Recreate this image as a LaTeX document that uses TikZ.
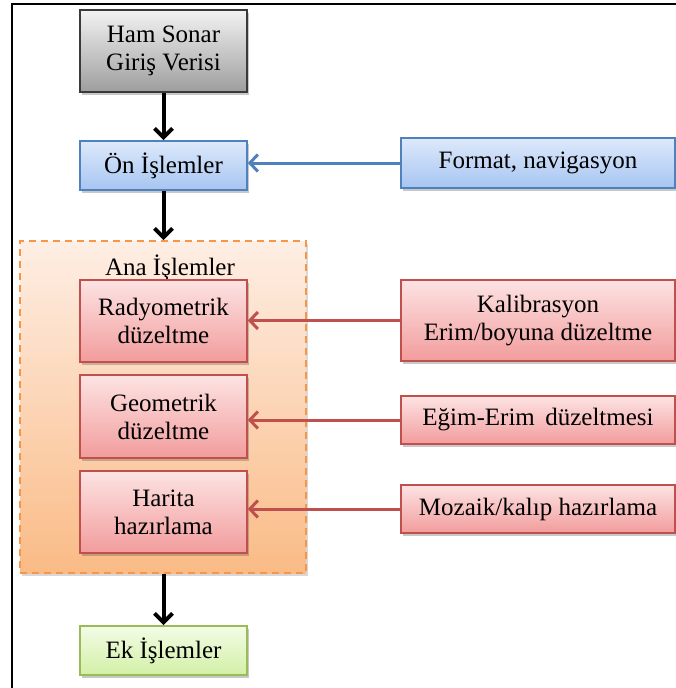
\documentclass[tikz,border=0pt]{standalone}
\usepackage{fontspec}
\setmainfont{Liberation Serif}
\newfontfamily\tnr{Liberation Serif}
\usetikzlibrary{arrows.meta,shadows}
\definecolor{grayline}{HTML}{3A3A3A}
\definecolor{graytop}{HTML}{F2F2F2}
\definecolor{graybot}{HTML}{9E9E9E}
\definecolor{blueline}{HTML}{4F81BD}
\definecolor{bluetop}{HTML}{DDE9FB}
\definecolor{bluebot}{HTML}{A7C5F1}
\definecolor{redline}{HTML}{C0504D}
\definecolor{redtop}{HTML}{FDE3E3}
\definecolor{redbot}{HTML}{F29C9C}
\definecolor{greenline}{HTML}{9BBB59}
\definecolor{greentop}{HTML}{F3FCE6}
\definecolor{greenbot}{HTML}{D2F0A6}
\definecolor{orline}{HTML}{F79646}
\definecolor{ortop}{HTML}{FEEEE4}
\definecolor{orbot}{HTML}{FABB86}
\tikzset{
  box/.style={rectangle, inner sep=0pt, align=center, line width=1.6pt,
    font=\tnr\fontsize{25}{28}\selectfont,
    drop shadow={shadow xshift=2pt, shadow yshift=-3pt, opacity=0.3, fill=black!70}},
  graybox/.style={box, draw=grayline, top color=graytop, bottom color=graybot},
  bluebox/.style={box, draw=blueline, top color=bluetop, bottom color=bluebot},
  redbox/.style={box, draw=redline, top color=redtop, bottom color=redbot},
  greenbox/.style={box, draw=greenline, top color=greentop, bottom color=greenbot},
  container/.style={rectangle, inner sep=0pt, draw=orline, line width=1.6pt,
    dash pattern=on 7pt off 5pt, top color=ortop, bottom color=orbot,
    drop shadow={shadow xshift=2pt, shadow yshift=-3pt, opacity=0.25, fill=black!60}},
  blackarrow/.style={draw=black, line width=4pt, -{Straight Barb[length=9pt,width=18pt]}},
  bluearrow/.style={draw=blueline, line width=3pt, -{Straight Barb[length=8pt,width=17pt]}},
  redarrow/.style={draw=redline, line width=3pt, -{Straight Barb[length=8pt,width=17pt]}},
  lbl/.style={inner sep=0pt, font=\tnr\fontsize{25}{28}\selectfont}
}
\begin{document}
\begin{tikzpicture}[x=1pt,y=-1pt]
\useasboundingbox (0,0) rectangle (676,688);
\fill[white] (0,0) rectangle (676,688);
\draw[line width=2.5pt] (12,688) -- (12,4) -- (676,4);

\node[container, minimum width=286pt, minimum height=332pt] (ana) at (163,407) {};
\node[lbl] (analbl) at (170,268) {Ana İşlemler};

\node[graybox, minimum width=167pt, minimum height=82pt] (ham) at (163.5,51) {Ham Sonar\\Giriş Verisi};
\node[bluebox, minimum width=167pt, minimum height=49pt] (on) at (163.5,165.5) {Ön İşlemler};
\node[redbox, minimum width=167pt, minimum height=82pt] (rad) at (163.5,321) {Radyometrik\\düzeltme};
\node[redbox, minimum width=167pt, minimum height=83pt] (geo) at (163.5,416.5) {Geometrik\\düzeltme};
\node[redbox, minimum width=167pt, minimum height=82pt] (har) at (163.5,512) {Harita\\hazırlama};
\node[greenbox, minimum width=167pt, minimum height=49pt] (ek) at (163.5,650.5) {Ek İşlemler};

\node[bluebox, minimum width=274pt, minimum height=50pt] (fmt) at (538,163) {Format, navigasyon};
\node[redbox, minimum width=274pt, minimum height=81pt] (kal) at (538,320.5) {Kalibrasyon\\Erim/boyuna düzeltme};
\node[redbox, minimum width=274pt, minimum height=48pt] (egim) at (538,420) {Eğim-Erim\, düzeltmesi};
\node[redbox, minimum width=274pt, minimum height=48pt] (moz) at (538,509) {Mozaik/kalıp hazırlama};

\draw[blackarrow] (ham.south) -- (on.north);
\draw[blackarrow] (on.south) -- (ana.north -| on.south);
\draw[blackarrow] (ana.south -| ek.north) -- (ek.north);

\draw[bluearrow] (fmt.west) -- (fmt.west -| on.east);
\draw[redarrow] (kal.west) -- (kal.west -| rad.east);
\draw[redarrow] (egim.west) -- (egim.west -| geo.east);
\draw[redarrow] (moz.west) -- (moz.west -| har.east);
\end{tikzpicture}
\end{document}
